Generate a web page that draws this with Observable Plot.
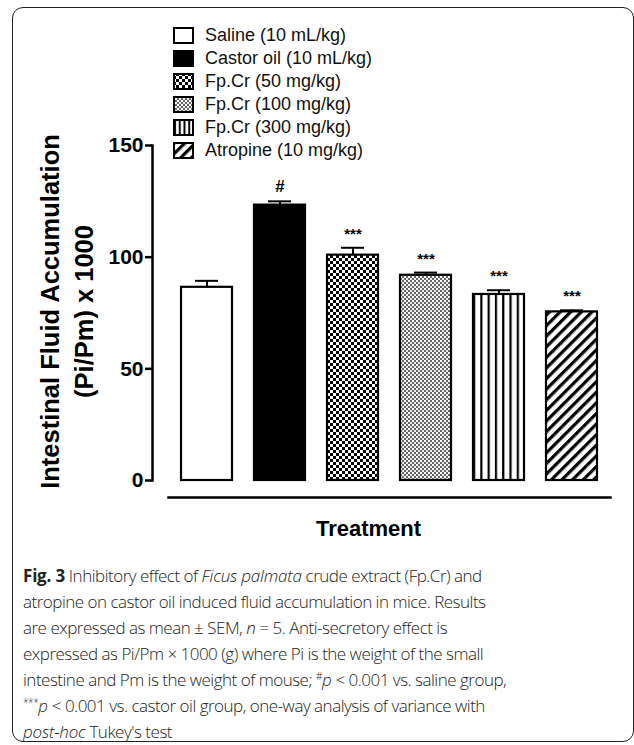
<!DOCTYPE html>
<html>
<head>
<meta charset="utf-8">
<script src="https://cdn.jsdelivr.net/npm/d3@7"></script>
<script src="https://cdn.jsdelivr.net/npm/@observablehq/plot@0.6"></script>
<style>
  html, body { margin: 0; padding: 0; background: #fff; overflow: hidden; }
  #wrap { position: relative; width: 634px; height: 745px; }
  #border { position: absolute; left: 12px; top: 7px; width: 622px; height: 735px; border: 1.5px solid #222; border-radius: 11px; box-sizing: border-box; }
  #chart { position: absolute; left: 0; top: 0; }
  #legend { position: absolute; left: 173px; top: 24px; font-family: "Liberation Sans", Arial, sans-serif; font-size: 18px; color: #111; }
  .row { height: 23px; display: flex; align-items: center; white-space: nowrap; }
  .row svg { margin-right: 11px; }
  #caption { position: absolute; left: 23px; top: 563px; width: 600px; font-family: "Open Sans", sans-serif; font-weight: 300; font-size: 17px; letter-spacing: -0.5px; line-height: 26px; color: #222; white-space: nowrap; }
  #caption b { font-weight: 700; letter-spacing: -0.2px; }
  #caption i { letter-spacing: -0.2px; }
  sup { font-size: 60%; line-height: 0; vertical-align: 0.55em; }
</style>
</head>
<body>
<div id="wrap">
  <div id="border"></div>
  <div id="chart"></div>
  <div id="legend"></div>
  <div id="caption">
    <b>Fig. 3</b> Inhibitory effect of <i>Ficus palmata</i> crude extract (Fp.Cr) and<br>
    atropine on castor oil induced fluid accumulation in mice. Results<br>
    are expressed as mean ± SEM, <i>n</i> = 5. Anti-secretory effect is<br>
    expressed as Pi/Pm × 1000 (g) where Pi is the weight of the small<br>
    intestine and Pm is the weight of mouse; <sup>#</sup><i>p</i> &lt; 0.001 vs. saline group,<br>
    <sup>***</sup><i>p</i> &lt; 0.001 vs. castor oil group, one-way analysis of variance with<br>
    <i>post-hoc</i> Tukey's test
  </div>
</div>
<script>
// ---- data ----
const groups = ["Saline (10 mL/kg)", "Castor oil (10 mL/kg)", "Fp.Cr (50 mg/kg)", "Fp.Cr (100 mg/kg)", "Fp.Cr (300 mg/kg)", "Atropine (10 mg/kg)"];
const means = [86.5, 123.3, 100.9, 91.9, 83.3, 75.5];
const sems = [2.9, 1.7, 3.3, 1.2, 1.9, 0.7];
const signif = ["", "#", "***", "***", "***", "***"];
const yTicks = [0, 50, 100, 150];
const yTitle = "Intestinal Fluid Accumulation\n(Pi/Pm) x 1000";
const xTitle = "Treatment";

// ---- styles (pattern fills) ----
const barFills = ["#fff", "#000", "url(#pChk)", "url(#pFine)", "url(#pVert)", "url(#pDiag)"];
const legendFills = ["#fff", "#000", "url(#pChk)", "url(#pFine)", "url(#pVertL)", "url(#pDiag)"];

const data = groups.map((g, i) => ({group: g, mean: means[i], sem: sems[i], top: means[i] + sems[i], sig: signif[i], fill: barFills[i]}));

const font = "'Liberation Sans', Arial, Helvetica, sans-serif";

const plot = Plot.plot({
  width: 634,
  height: 545,
  marginTop: 145,
  marginBottom: 48,
  marginLeft: 168,
  marginRight: 24,
  insetBottom: 17,
  insetLeft: 12,
  insetRight: 13,
  style: {fontFamily: font, background: "transparent", overflow: "visible", color: "#000"},
  x: {domain: groups, paddingInner: 0.303, paddingOuter: 0, axis: null},
  y: {domain: [0, 150], axis: null},
  color: {type: "identity"},
  marks: [
    Plot.frame({anchor: "bottom", stroke: "#000", strokeWidth: 2.5}),
    Plot.frame({anchor: "left", dx: -16, insetBottom: 17, stroke: "#000", strokeWidth: 2.5}),
    Plot.axisY({ticks: yTicks, tickSize: 7, dx: -16, tickPadding: 2, fontSize: 21, fontWeight: "bold", strokeWidth: 2.5, label: null}),
    Plot.ruleX(data, {x: "group", y1: "mean", y2: "top", stroke: "#000", strokeWidth: 2}),
    Plot.tickY(data, {x: "group", y: "top", insetLeft: 14, insetRight: 14, stroke: "#000", strokeWidth: 2}),
    Plot.barY(data, {x: "group", y: "mean", fill: "fill", stroke: "#000", strokeWidth: 2.2}),
    Plot.text(data, {x: "group", y: "top", text: "sig", dy: -9, fontSize: d => d.sig === "#" ? 17 : 15, fontWeight: "bold", lineAnchor: "bottom"}),
    Plot.text([yTitle], {frameAnchor: "left", rotate: -90, dx: -103, dy: -10, fontSize: 25.5, fontWeight: "bold", lineHeight: 1.33, lineAnchor: "middle", textAnchor: "middle"}),
    Plot.text([xTitle], {frameAnchor: "bottom", dx: -21, dy: 31, fontSize: 22, fontWeight: "bold", lineAnchor: "middle"})
  ]
});

const defs = `
<defs>
  <pattern id="pChk" width="6" height="6" patternUnits="userSpaceOnUse">
    <rect width="6" height="6" fill="#000"/>
    <rect width="3" height="3" fill="#fff"/>
    <rect x="3" y="3" width="3" height="3" fill="#fff"/>
  </pattern>
  <pattern id="pFine" width="4" height="4" patternUnits="userSpaceOnUse">
    <rect width="4" height="4" fill="#666"/>
    <rect width="2" height="2" fill="#fff"/>
    <rect x="2" y="2" width="2" height="2" fill="#eee"/>
  </pattern>
  <pattern id="pVert" width="0.142857" height="1" patternUnits="objectBoundingBox">
    <rect width="100" height="1000" fill="#fff"/>
    <rect width="2.2" height="1000" fill="#000"/>
  </pattern>
  <pattern id="pVertL" width="0.25" height="1" patternUnits="objectBoundingBox">
    <rect width="100" height="1000" fill="#fff"/>
    <rect width="2" height="1000" fill="#000"/>
  </pattern>
  <pattern id="pDiag" width="7.5" height="7.5" patternUnits="userSpaceOnUse" patternTransform="rotate(45)">
    <rect width="7.5" height="7.5" fill="#fff"/>
    <rect width="3.2" height="7.5" fill="#000"/>
  </pattern>
</defs>`;
plot.insertAdjacentHTML("afterbegin", defs);
document.getElementById("chart").appendChild(plot);

// legend
const legend = document.getElementById("legend");
groups.forEach((g, i) => {
  const row = document.createElement("div");
  row.className = "row";
  row.innerHTML = `<svg width="21" height="17"><rect x="1" y="1" width="19" height="15" fill="${legendFills[i]}" stroke="#000" stroke-width="2"/></svg><span>${g}</span>`;
  legend.appendChild(row);
});
</script>
</body>
</html>
